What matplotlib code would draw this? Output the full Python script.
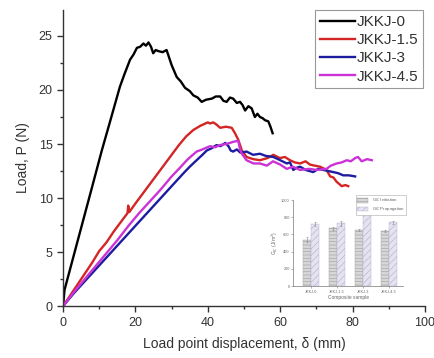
import matplotlib
matplotlib.use("Agg")
import matplotlib.pyplot as plt
import numpy as np
from matplotlib.ticker import MultipleLocator

plt.rcParams['font.family'] = ['Liberation Sans', 'DejaVu Sans']
plt.rcParams['hatch.linewidth'] = 0.4

# ---- main curves ----
x_j0 = [0, 0.4, 2, 4, 6, 8, 10.7, 13, 15.7, 17, 18.5, 19.5, 20.4, 21.3, 22.2, 22.9, 23.6, 24.3,
        24.9, 25.6, 26.3, 27.5, 28.6, 29.3, 30.0, 31.4, 32.5, 33.7, 35, 36.0, 37.2, 38.3, 39.5,
        41.1, 42.2, 43.4, 44.3, 45.2, 46.1, 47.0, 48.0, 48.9, 49.6, 50.3, 51.2, 52.1, 53.0,
        53.7, 54.4, 55.1, 55.8, 56.7, 57.3, 57.9]
y_j0 = [0, 1.5, 3.5, 6.0, 8.5, 11.0, 14.4, 17.1, 20.3, 21.5, 22.8, 23.3, 23.9, 24.0, 24.3, 24.1,
        24.4, 24.0, 23.4, 23.7, 23.6, 23.5, 23.7, 23.0, 22.3, 21.2, 20.8, 20.2, 19.9, 19.5, 19.3,
        18.9, 19.1, 19.2, 19.4, 19.4, 19.0, 18.9, 19.3, 19.2, 18.8, 18.9, 18.6, 18.1, 18.5, 18.3,
        17.5, 17.8, 17.5, 17.4, 17.2, 17.1, 16.6, 16.0]

x_j15 = [0, 2, 4, 6, 8, 10, 12, 14, 16, 17.8, 18.0, 18.3, 20, 22, 24, 26, 28, 30, 32, 34, 36,
         38, 40, 40.6, 41.5, 42.4, 43.4, 45, 46.6, 47.5, 48.4, 49.4, 50.7, 52.5, 54.4, 56.5,
         58.1, 59.9, 61.3, 62.7, 64, 65.5, 67, 68.2, 69.5, 71.0, 72.8, 73.8, 74.7, 75.6, 77.0,
         78.0, 78.8]
y_j15 = [0, 1.0, 2.0, 3.0, 4.0, 5.1, 5.9, 6.9, 7.8, 8.6, 9.3, 8.7, 9.5, 10.4, 11.3, 12.2, 13.1,
         14.0, 14.9, 15.7, 16.3, 16.7, 17.0, 16.9, 17.0, 16.8, 16.5, 16.6, 16.5, 16.0, 15.4,
         14.4, 13.8, 13.6, 13.5, 13.7, 14.0, 13.7, 13.8, 13.5, 13.3, 13.2, 13.4, 13.1, 13.0,
         12.9, 12.6, 12.0, 11.9, 11.5, 11.1, 11.2, 11.1]

x_j3 = [0, 3, 6, 9, 12, 15, 18, 21, 24, 27, 30, 33, 35, 36.9, 38.5, 39.7, 41, 42.4, 43.5, 44.8,
        45.7, 46.3, 47.0, 48, 49, 50.7, 52.5, 54.4, 56, 58.1, 60, 61.8, 62.7, 63.6, 64.5, 65.5,
        67, 69.1, 70.5, 71.9, 73.3, 74.7, 76, 77.4, 79, 80.7]
y_j3 = [0, 1.2, 2.3, 3.4, 4.5, 5.6, 6.7, 7.8, 8.9, 10.0, 11.1, 12.2, 12.9, 13.5, 14.0, 14.4, 14.6,
        14.9, 14.8, 15.1, 14.8, 14.4, 14.3, 14.5, 14.2, 14.3, 14.0, 14.1, 13.9, 13.8, 13.5, 13.2,
        13.3, 12.6, 12.8, 12.9, 12.6, 12.4, 12.7, 12.6, 12.5, 12.4, 12.3, 12.1, 12.1, 12.0]

x_j45 = [0, 3, 6, 9, 12, 15, 18, 21, 24, 27, 30, 32, 34.2, 35.5, 36.9, 38.5, 40.6, 42, 43.4, 45,
         46.1, 47.0, 48.4, 48.9, 49.4, 50.7, 52.6, 54.4, 56.3, 58, 60, 61.8, 63.5, 65.5, 68,
         70.1, 72.8, 74, 75.6, 77, 78.4, 79.5, 80.7, 81.5, 82.5, 84, 85.3]
y_j45 = [0, 1.3, 2.5, 3.7, 4.9, 6.1, 7.4, 8.6, 9.7, 10.8, 12.0, 12.7, 13.5, 13.9, 14.3, 14.5,
         14.8, 14.7, 14.9, 15.0, 15.1, 15.2, 15.3, 14.5, 14.1, 13.5, 13.2, 13.2, 13.0, 13.4,
         13.1, 12.7, 12.9, 12.6, 12.7, 12.6, 12.7, 13.0, 13.2, 13.3, 13.5, 13.4, 13.7, 13.8,
         13.4, 13.6, 13.5]

labels = ['JKKJ-0', 'JKKJ-1.5', 'JKKJ-3', 'JKKJ-4.5']
colors = ['#000000', '#d42525', '#1c1ca0', '#cc33d6']

# ---- inset data ----
samples = ['JKKJ-0', 'JKKJ-1.5', 'JKKJ-3', 'JKKJ-4.5']
g_init = [540, 672, 652, 643]
g_init_err = [25, 15, 8, 15]
g_prop = [725, 728, 862, 742]
g_prop_err = [25, 30, 20, 15]

fig = plt.figure(figsize=(4.35, 3.58), dpi=100)
ax = fig.add_axes([0.145, 0.145, 0.832, 0.827])

for xs, ys, lab, c in zip([x_j0, x_j15, x_j3, x_j45], [y_j0, y_j15, y_j3, y_j45], labels, colors):
    ax.plot(xs, ys, color=c, lw=1.7, label=lab)

ax.set_xlim(0, 100)
ax.set_ylim(0, 27.4)
ax.xaxis.set_major_locator(MultipleLocator(20))
ax.xaxis.set_minor_locator(MultipleLocator(10))
ax.yaxis.set_major_locator(MultipleLocator(5))
ax.yaxis.set_minor_locator(MultipleLocator(2.5))
for s in ['top', 'right']:
    ax.spines[s].set_visible(False)
for s in ['left', 'bottom']:
    ax.spines[s].set_color('#333333')
    ax.spines[s].set_linewidth(1.0)
ax.tick_params(which='major', length=4, width=1, color='#333333', labelcolor='#333333', labelsize=9)
ax.tick_params(which='minor', length=2.5, width=1, color='#333333')
ax.set_xlabel('Load point displacement, δ (mm)', fontsize=10, color='#333333', labelpad=6)
ax.set_ylabel('Load, P (N)', fontsize=10, color='#333333', labelpad=6)

leg = ax.legend(loc='upper right', fontsize=11, handlelength=2.3, handletextpad=0.15,
                labelspacing=0.28, borderpad=0.3, borderaxespad=0.0, fancybox=False,
                framealpha=1, bbox_to_anchor=(0.995, 0.999))
leg.get_frame().set_edgecolor('#999999')
leg.get_frame().set_linewidth(0.8)
for t in leg.get_texts():
    t.set_color('#333333')

# ---- inset ----
ins = fig.add_axes([0.674, 0.201, 0.252, 0.240])
xi = np.arange(len(samples))
w = 0.3
ins.bar(xi - w / 2, g_init, w, yerr=g_init_err, color='#d6d6d6', edgecolor='#a0a0a0',
        hatch='-----', lw=0.3, error_kw=dict(elinewidth=0.4, capsize=1, capthick=0.4, ecolor='#888888'),
        label='G$_{IC}$ Initiation')
ins.bar(xi + w / 2, g_prop, w, yerr=g_prop_err, color='#e6e2f2', edgecolor='#b0b0c8',
        hatch='/////', lw=0.3, error_kw=dict(elinewidth=0.4, capsize=1, capthick=0.4, ecolor='#888888'),
        label='G$_{IC}$ Propagation')
ins.set_xlim(-0.69, 3.54)
ins.set_ylim(0, 1000)
ins.set_yticks([0, 200, 400, 600, 800, 1000])
ins.set_xticks(xi)
ins.set_xticklabels(samples)
ins.patch.set_alpha(0)
for s in ['top', 'right']:
    ins.spines[s].set_visible(False)
for s in ['left', 'bottom']:
    ins.spines[s].set_color('#777777')
    ins.spines[s].set_linewidth(0.5)
ins.tick_params(length=1.5, width=0.4, color='#777777', labelcolor='#666666', labelsize=2.8, pad=1)
ins.set_xlabel('Composite sample', fontsize=3.5, color='#666666', labelpad=1)
ins.set_ylabel('G$_{IC}$ (J/m$^2$)', fontsize=3.5, color='#666666', labelpad=1)
il = ins.legend(loc='upper right', fontsize=3.2, fancybox=False, framealpha=1, borderpad=0.3,
                handlelength=2.5, handleheight=1.2, labelspacing=0.2, bbox_to_anchor=(1.05, 1.08))
il.get_frame().set_edgecolor('#aaaaaa')
il.get_frame().set_linewidth(0.4)
for t in il.get_texts():
    t.set_color('#666666')

fig.savefig('out.png', dpi=100)
